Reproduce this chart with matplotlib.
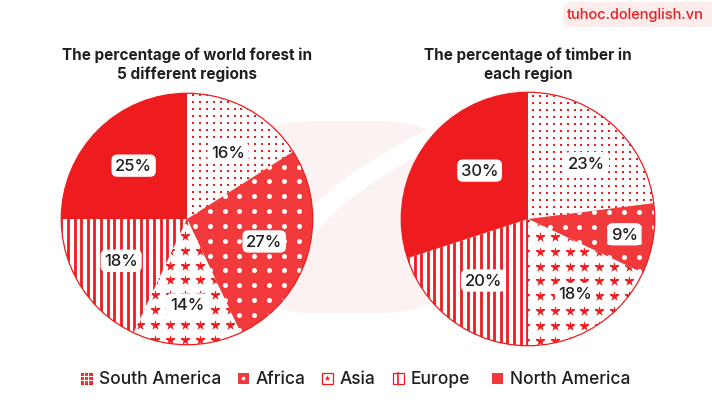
import numpy as np
import matplotlib.pyplot as plt
from matplotlib.patches import FancyBboxPatch, Rectangle, Circle

plt.rcParams['font.family'] = ['Inter', 'DejaVu Sans']

regions = ['South America', 'Africa', 'Asia', 'Europe', 'North America']
forest_pct = [16, 27, 14, 18, 25]
timber_pct = [23, 9, 18, 20, 30]
titles = ['The percentage of world forest in\n5 different regions',
          'The percentage of timber in\neach region']

RED = '#EE1C1F'
RED2 = '#F2393C'
TXT = '#1F1F1F'
# fill colour and texture per region
fills = ['white', RED2, 'white', 'white', RED]
textures = ['smalldots', 'whitedots', 'stars', 'vlines', None]

W, H = 712, 410
fig = plt.figure(figsize=(W / 100, H / 100), dpi=100)

# background axes in pixel coordinates
bg = fig.add_axes([0, 0, 1, 1])
bg.set_xlim(0, W)
bg.set_ylim(H, 0)
bg.axis('off')

# faint watermark logo
bg.add_patch(FancyBboxPatch((225, 122), 245, 192, boxstyle='round,pad=0,rounding_size=90',
                            fc='#FDF2F2', ec='none', zorder=0))
tt = np.linspace(0, 1, 60)
bg.plot(300 + 150 * tt, 250 - 120 * tt ** 0.6, color='white', lw=14, solid_capstyle='round', zorder=0.5)

# badge
bg.add_patch(FancyBboxPatch((563, 3), 165, 25, boxstyle='round,pad=0,rounding_size=8',
                            fc='#FDECEC', ec='none'))
bg.text(635, 15.5, 'tuhoc.dolenglish.vn', color=RED, fontsize=10.5, ha='center', va='center',
        fontweight='medium')


def texture(ax, wedge, kind, R):
    px = 1.0 / R
    if kind == 'smalldots':
        g = np.arange(-1, 1.01, 7 * px)
        xx, yy = np.meshgrid(g, g)
        sc = ax.scatter(xx.ravel(), yy.ravel(), s=4.5, marker='s', c=RED, linewidths=0, zorder=3)
        sc.set_clip_path(wedge)
    elif kind == 'whitedots':
        g = np.arange(-1, 1.01, 15 * px)
        xx, yy = np.meshgrid(g, g)
        sc = ax.scatter(xx.ravel(), yy.ravel(), s=13, marker='o', c='white', linewidths=0, zorder=3)
        sc.set_clip_path(wedge)
    elif kind == 'stars':
        g = np.arange(-1 + 5 * px, 1.01, 15 * px)
        xx, yy = np.meshgrid(g, g)
        sc = ax.scatter(xx.ravel(), yy.ravel(), s=58, marker='*', c=RED, linewidths=0, zorder=3)
        sc.set_clip_path(wedge)
    elif kind == 'vlines':
        xs = np.arange(-1, 1.01, 6.7 * px)
        lc = ax.vlines(xs, -1, 1, colors=RED, linewidth=2.0, zorder=3)
        lc.set_clip_path(wedge)


def draw_pie(cx, cy, R, values, title, pctdist, angshift):
    ax = fig.add_axes([(cx - R) / W, (H - cy - R) / H, 2 * R / W, 2 * R / H])
    wedges, _ = ax.pie(values, startangle=90, counterclock=False, colors=fills,
                       wedgeprops=dict(linewidth=0))
    for w, kind in zip(wedges, textures):
        texture(ax, w, kind, R)
        w.set_zorder(2)
    # labels
    ang = 90.0
    for v, d, da in zip(values, pctdist, angshift):
        mid = np.deg2rad(ang - v * 3.6 / 2 + da)
        ang -= v * 3.6
        ax.text(d * np.cos(mid), d * np.sin(mid), f'{v}%', ha='center', va='center',
                fontsize=12, color=TXT, zorder=5, fontweight='medium',
                bbox=dict(boxstyle='round,pad=0.22,rounding_size=0.35', fc='white', ec='none'))
    ax.add_patch(Circle((0, 0), 1, fill=False, ec=RED, lw=0.9, zorder=4))
    ax.set_xlim(-1.01, 1.01)
    ax.set_ylim(-1.01, 1.01)
    ax.set_aspect('equal')
    ax.axis('off')
    bg.text(cx, 65, title, ha='center', va='center', fontsize=11, fontweight='bold',
            color=TXT, linespacing=1.3)


draw_pie(187, 220, 127, forest_pct, titles[0], [0.62, 0.64, 0.68, 0.62, 0.6], [-3, 0, 0, 0, 0])
draw_pie(528, 220, 128, timber_pct, titles[1], [0.64, 0.77, 0.7, 0.6, 0.54], [-5, 0, 0, 0, -9])

# legend
icon_x = [86, 243, 327, 398, 497]
ly = 379
s = 11
for x, name, kind in zip(icon_x, regions, textures):
    x0, y0 = x - s / 2, ly - s / 2
    if kind == 'smalldots':
        bg.add_patch(Rectangle((x0, y0), s, s, fc=RED2, ec=RED, lw=0.8))
        for k in (1, 2):
            bg.plot([x0 + k * s / 3] * 2, [y0, y0 + s], color='white', lw=0.7)
            bg.plot([x0, x0 + s], [y0 + k * s / 3] * 2, color='white', lw=0.7)
    elif kind == 'whitedots':
        bg.add_patch(Rectangle((x0, y0), s, s, fc=RED2, ec='none'))
        bg.scatter([x], [ly], s=7, c='white', linewidths=0, zorder=3)
    elif kind == 'stars':
        bg.add_patch(Rectangle((x0, y0), s, s, fc='white', ec=RED, lw=0.9))
        bg.scatter([x], [ly], s=20, marker='*', c=RED, linewidths=0, zorder=3)
    elif kind == 'vlines':
        bg.add_patch(Rectangle((x0, y0), s, s, fc='white', ec=RED, lw=0.9))
        bg.plot([x, x], [y0, y0 + s], color=RED, lw=1.2)
    else:
        bg.add_patch(Rectangle((x0, y0), s, s, fc=RED2, ec='none'))
    bg.text(x + 13, ly + 0.5, name, ha='left', va='center', fontsize=12.5, color=TXT,
            fontweight='medium')

fig.savefig('out.png', dpi=100)
